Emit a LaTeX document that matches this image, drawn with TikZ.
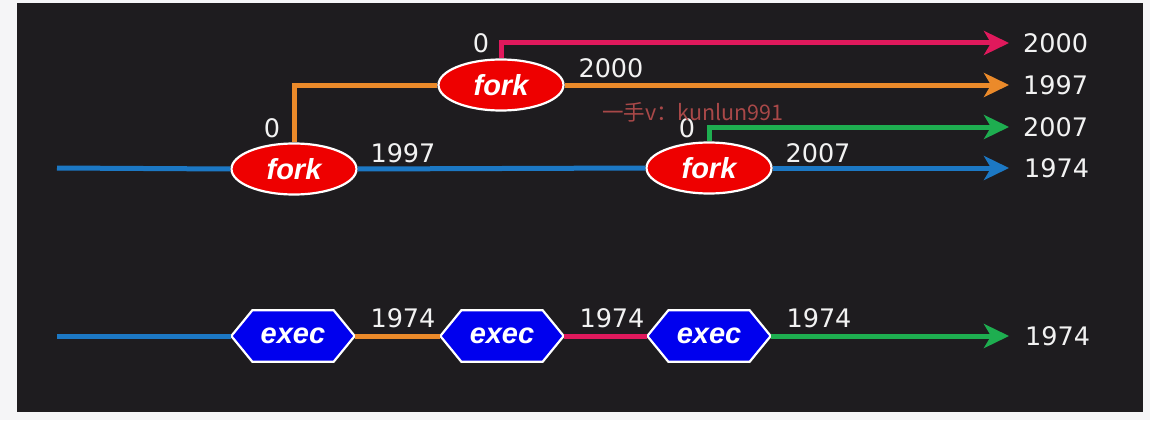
\documentclass[tikz,border=0pt]{standalone}
\usepackage{fontspec}
\setmainfont{DejaVu Sans}
\newfontfamily\cjk{Noto Sans CJK SC}
\newfontfamily\nodefont{Liberation Sans}
\usetikzlibrary{arrows.meta,shapes.geometric}
\pgfdeclarelayer{back}
\pgfdeclarelayer{bg}
\pgfsetlayers{back,bg,main}
\definecolor{bgdark}{HTML}{1E1C1F}
\definecolor{pageg}{HTML}{F5F5F7}
\definecolor{lblue}{HTML}{1C78C4}
\definecolor{lorange}{HTML}{EB8A2A}
\definecolor{lpink}{HTML}{E0195C}
\definecolor{lgreen}{HTML}{1EAE50}
\definecolor{fred}{HTML}{EE0000}
\definecolor{hblue}{HTML}{0000EE}
\definecolor{wmcol}{HTML}{A84848}
\definecolor{txt}{HTML}{F2F2F2}
\tikzset{
  forkn/.style={ellipse, fill=fred, draw=white, line width=2.2pt, minimum width=125pt, minimum height=51pt, inner sep=0pt, text=white, font=\nodefont\fontsize{29}{29}\selectfont\bfseries\itshape},
  execn/.style={rectangle, minimum width=123pt, minimum height=51pt, inner sep=0pt, text=white, font=\nodefont\fontsize{29}{29}\selectfont\bfseries\itshape},
  hexs/.style={fill=hblue, draw=white, line width=2.2pt, line join=miter},
  lbl/.style={text=txt, inner sep=0pt, font=\fontsize{25.5}{25.5}\selectfont},
  rlbl/.style={lbl, anchor=west},
  ln/.style={line width=5pt},
  arr/.style={ln, -{Stealth[length=25pt, width=24pt, inset=7pt]}},
}
\begin{document}
\begin{tikzpicture}[x=1pt, y=-1pt]
\begin{pgfonlayer}{back}
\fill[pageg] (0,0) rectangle (1150,420);
\fill[bgdark] (17,3) rectangle (1143,412);
\end{pgfonlayer}
\useasboundingbox (0,0) rectangle (1150,420);

% fork nodes
\node[forkn] (f1) at (294,169) {fork};
\node[forkn] (f2) at (501,85) {fork};
\node[forkn] (f3) at (709,168) {fork};

% exec nodes
\node[execn] (e1) at (293,336) {exec};
\node[execn] (e2) at (502,336) {exec};
\node[execn] (e3) at (709,336) {exec};
\begin{pgfonlayer}{bg}
\foreach \n in {e1,e2,e3}{
  \filldraw[hexs] (\n.west) -- ([xshift=21pt]\n.north west) -- ([xshift=-21pt]\n.north east) -- (\n.east) -- ([xshift=-21pt]\n.south east) -- ([xshift=21pt]\n.south west) -- cycle;
}
\end{pgfonlayer}

% coordinates
\coordinate (s1) at (57,168);
\coordinate (s2) at (57,336);
\coordinate (a2000) at (1009,43);
\coordinate (a1997) at (1009,85);
\coordinate (a2007) at (1009,127);
\coordinate (a1974) at (1009,168);
\coordinate (b1974) at (1009,336);

% top connectors
\draw[ln, lblue] (s1) -- (f1.west);
\draw[ln, lblue] (f1.east) -- (f3.west);
\draw[arr, lblue] (f3.east) -- (a1974);
\draw[ln, lorange] (f1.north) |- (f2.west);
\draw[arr, lorange] (f2.east) -- (a1997);
\draw[arr, lpink] (f2.north) |- (a2000);
\draw[arr, lgreen] (f3.north) |- (a2007);

% bottom connectors
\draw[ln, lblue] (s2) -- (e1.west);
\draw[ln, lorange] (e1.east) -- (e2.west);
\draw[ln, lpink] (e2.east) -- (e3.west);
\draw[arr, lgreen] (e3.east) -- (b1974);

% labels
\node[lbl] (z2) at (481,43) {0};
\node[lbl] (z1) at (272,128) {0};
\node[lbl] (z3) at (687,128) {0};
\node[lbl] (l2000) at (611,68) {2000};
\node[lbl] (l1997) at (403,153) {1997};
\node[lbl] (l2007) at (818,153) {2007};
\node[lbl] (m1) at (403,318) {1974};
\node[lbl] (m2) at (612,318) {1974};
\node[lbl] (m3) at (819,318) {1974};

\node[rlbl] (r2000) at (1023,43) {2000};
\node[rlbl] (r1997) at (1023,85) {1997};
\node[rlbl] (r2007) at (1023,127) {2007};
\node[rlbl] (r1974) at (1024,168) {1974};
\node[rlbl] (r1974b) at (1025,336) {1974};

% watermark
\node[anchor=west, inner sep=0pt, text=wmcol, font=\cjk\fontsize{21.5}{21.5}\selectfont] (wm) at (602,112) {一手v：kunlun991};
\end{tikzpicture}
\end{document}
